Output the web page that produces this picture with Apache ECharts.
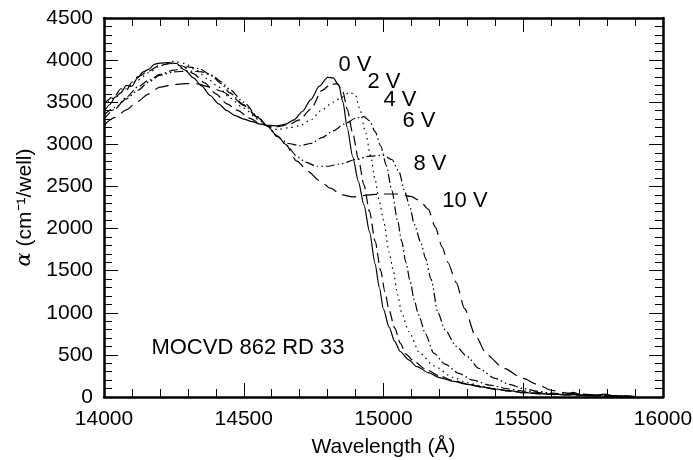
<!DOCTYPE html>
<html>
<head>
<meta charset="utf-8">
<script src="https://cdn.jsdelivr.net/npm/echarts@6/dist/echarts.min.js"></script>
<style>
  html, body { margin: 0; background: #fff; }
  #chart { width: 693px; height: 460px; }
</style>
</head>
<body>
<div id="chart"></div>
<script>
// absorption curves: [wavelength (Å), alpha (cm-1/well)]
const voltages = ['0 V', '2 V', '4 V', '6 V', '8 V', '10 V'];

const curve0V = [
  [14000, 3380], [14020, 3470], [14040, 3560], [14060, 3610], [14080, 3700], [14100, 3690],
  [14120, 3790], [14140, 3860], [14160, 3890], [14180, 3950], [14200, 3965], [14230, 3970],
  [14260, 3960], [14290, 3880], [14320, 3790], [14350, 3690], [14380, 3580], [14410, 3480],
  [14440, 3400], [14470, 3340], [14500, 3300], [14530, 3270], [14560, 3240], [14590, 3225],
  [14620, 3220], [14650, 3240], [14680, 3290], [14710, 3390], [14740, 3530], [14770, 3690],
  [14800, 3795], [14820, 3790], [14840, 3700], [14855, 3500], [14870, 3200], [14890, 2850],
  [14910, 2560], [14930, 2280], [14950, 1960], [14970, 1580], [14985, 1300], [15000, 1040],
  [15020, 830], [15040, 660], [15060, 540], [15090, 440], [15120, 360], [15160, 290],
  [15200, 230], [15250, 185], [15300, 150], [15350, 120], [15400, 95], [15450, 75],
  [15500, 55], [15550, 40], [15600, 35], [15650, 25], [15680, 55], [15710, 20],
  [15750, 15], [15790, 35], [15830, 8], [15870, 15], [15900, 5]
];

const curve2V = [
  [14000, 3480], [14040, 3580], [14060, 3660], [14080, 3640], [14100, 3740], [14120, 3800],
  [14160, 3870], [14200, 3940], [14240, 3960], [14280, 3930], [14320, 3840], [14360, 3730],
  [14400, 3600], [14440, 3480], [14480, 3400], [14520, 3310], [14560, 3245], [14590, 3215],
  [14620, 3210], [14660, 3235], [14700, 3290], [14740, 3420], [14780, 3640], [14810, 3710],
  [14835, 3720], [14855, 3620], [14870, 3420], [14890, 3130], [14910, 2830], [14930, 2520],
  [14950, 2200], [14970, 1850], [14990, 1500], [15005, 1250], [15020, 1030], [15040, 820],
  [15060, 640], [15080, 510], [15110, 420], [15150, 330], [15200, 250], [15250, 195],
  [15300, 155], [15350, 120], [15400, 90], [15450, 70], [15500, 50], [15600, 30],
  [15700, 20], [15800, 10], [15900, 5]
];

const curve4V = [
  [14000, 3450], [14040, 3560], [14080, 3660], [14120, 3760], [14160, 3850], [14200, 3930],
  [14250, 3985], [14290, 3960], [14330, 3880], [14370, 3780], [14410, 3680], [14450, 3550],
  [14500, 3430], [14550, 3300], [14585, 3215], [14620, 3175], [14660, 3195], [14700, 3220],
  [14740, 3290], [14780, 3410], [14820, 3500], [14850, 3560], [14880, 3620], [14900, 3580],
  [14915, 3420], [14935, 3150], [14955, 2850], [14970, 2580], [14985, 2330], [15000, 2100],
  [15020, 1720], [15035, 1500], [15050, 1220], [15065, 1000], [15090, 780], [15130, 520],
  [15180, 370], [15250, 230], [15300, 170], [15350, 130], [15400, 95], [15450, 70],
  [15500, 55], [15600, 35], [15700, 25], [15800, 12], [15900, 5]
];

const curve6V = [
  [14000, 3300], [14040, 3420], [14080, 3560], [14120, 3680], [14160, 3760], [14200, 3830],
  [14250, 3880], [14300, 3920], [14340, 3900], [14380, 3830], [14420, 3720], [14450, 3610],
  [14500, 3470], [14550, 3320], [14585, 3215], [14620, 3090], [14660, 3010], [14700, 2985],
  [14740, 3010], [14780, 3080], [14820, 3160], [14860, 3240], [14900, 3310], [14930, 3330],
  [14950, 3280], [14970, 3150], [14990, 2980], [15010, 2750], [15030, 2450], [15050, 2100],
  [15065, 1850], [15080, 1600], [15095, 1380], [15110, 1150], [15125, 980], [15150, 750],
  [15180, 520], [15220, 390], [15270, 280], [15320, 200], [15380, 140], [15450, 95],
  [15500, 70], [15600, 40], [15700, 25], [15800, 12], [15900, 5]
];

const curve8V = [
  [14000, 3350], [14040, 3440], [14080, 3540], [14120, 3640], [14160, 3740], [14200, 3820],
  [14250, 3860], [14300, 3870], [14350, 3860], [14390, 3810], [14420, 3740], [14450, 3650],
  [14500, 3500], [14550, 3330], [14585, 3215], [14620, 3100], [14650, 3000], [14690, 2860],
  [14720, 2790], [14760, 2740], [14800, 2740], [14850, 2770], [14900, 2820], [14950, 2860],
  [15000, 2870], [15030, 2820], [15055, 2680], [15075, 2450], [15095, 2250], [15110, 2050],
  [15135, 1820], [15150, 1650], [15170, 1400], [15195, 1000], [15220, 800], [15260, 600],
  [15300, 480], [15340, 340], [15400, 220], [15450, 150], [15500, 100], [15550, 70],
  [15600, 45], [15700, 30], [15800, 15], [15900, 5]
];

const curve10V = [
  [14000, 3230], [14040, 3320], [14080, 3410], [14120, 3510], [14160, 3600], [14200, 3680],
  [14250, 3710], [14290, 3720], [14330, 3720], [14380, 3680], [14420, 3630], [14460, 3560],
  [14500, 3460], [14550, 3320], [14585, 3215], [14620, 3100], [14650, 3000], [14690, 2800],
  [14730, 2680], [14770, 2570], [14810, 2480], [14850, 2400], [14890, 2375], [14950, 2400],
  [15000, 2410], [15050, 2410], [15100, 2380], [15130, 2330], [15160, 2230], [15185, 2020],
  [15210, 1780], [15230, 1600], [15260, 1360], [15290, 1050], [15330, 720], [15370, 500],
  [15430, 340], [15500, 220], [15550, 150], [15600, 80], [15650, 50], [15700, 35],
  [15800, 15], [15900, 5]
];

const curves = [curve0V, curve2V, curve4V, curve6V, curve8V, curve10V];
const dashStyles = ['solid', [10, 5], [1.5, 4], [9, 3, 1.5, 3], [9, 3, 1.5, 3, 1.5, 3], [14, 7]];

const xMin = 14000, xMax = 16000, xStep = 500;
const yMin = 0, yMax = 4500, yStep = 500;

const fontFam = '"Liberation Sans", Arial, Helvetica, sans-serif';

var chart = echarts.init(document.getElementById('chart'), null, { renderer: 'canvas' });

function frameAxis(extra) {
    var base = {
        type: 'value',
        axisLine: { show: true, onZero: false, lineStyle: { color: '#000', width: 2.5 } },
        axisTick: { show: true, inside: true, length: 14, lineStyle: { color: '#000', width: 1 } },
        minorTick: { show: true, splitNumber: 5, length: 8, lineStyle: { color: '#000', width: 1 } },
        splitLine: { show: false },
        minorSplitLine: { show: false },
        axisLabel: { show: false }
    };
    return Object.assign(base, extra);
}

var labelStyle = { color: '#000', fontSize: 21, fontFamily: fontFam };
var plainNumber = function (v) { return String(v); };

function annot(text, x, y) {
    return {
        type: 'text', x: x, y: y,
        style: { text: text, font: '22px ' + fontFam, fill: '#000', align: 'center', verticalAlign: 'middle' }
    };
}

var option = {
    animation: false,
    backgroundColor: '#fff',
    grid: { left: 104, right: 30, top: 18, bottom: 63, containLabel: false, outerBoundsMode: 'none' },
    xAxis: [
        frameAxis({
            position: 'bottom', min: xMin, max: xMax, interval: xStep,
            axisLabel: Object.assign({ show: true, margin: 12, formatter: plainNumber }, labelStyle),
            name: 'Wavelength (Å)', nameLocation: 'middle', nameGap: 40,
            nameTextStyle: labelStyle
        }),
        frameAxis({ position: 'top', min: xMin, max: xMax, interval: xStep })
    ],
    yAxis: [
        frameAxis({
            position: 'left', min: yMin, max: yMax, interval: yStep,
            axisLabel: Object.assign({ show: true, margin: 11, formatter: plainNumber }, labelStyle),
            name: '{a|α} (cm⁻¹/well)', nameLocation: 'middle', nameGap: 55,
            nameTextStyle: Object.assign({
                rich: { a: { fontStyle: 'italic', fontFamily: '"DejaVu Serif", serif', fontSize: 21, color: '#000' } }
            }, labelStyle)
        }),
        frameAxis({ position: 'right', min: yMin, max: yMax, interval: yStep })
    ],
    series: curves.map(function (d, i) {
        return {
            name: voltages[i],
            type: 'line',
            data: d,
            showSymbol: false,
            smooth: 0.25,
            smoothMonotone: 'x',
            lineStyle: { color: '#000', width: 1.2, type: dashStyles[i] }
        };
    }),
    graphic: [
        annot(voltages[0], 355, 65),
        annot(voltages[1], 384, 82),
        annot(voltages[2], 400, 100),
        annot(voltages[3], 419, 121),
        annot(voltages[4], 430, 164),
        annot(voltages[5], 465, 201),
        annot('MOCVD 862 RD 33', 248, 348)
    ]
};

chart.setOption(option);
</script>
</body>
</html>
